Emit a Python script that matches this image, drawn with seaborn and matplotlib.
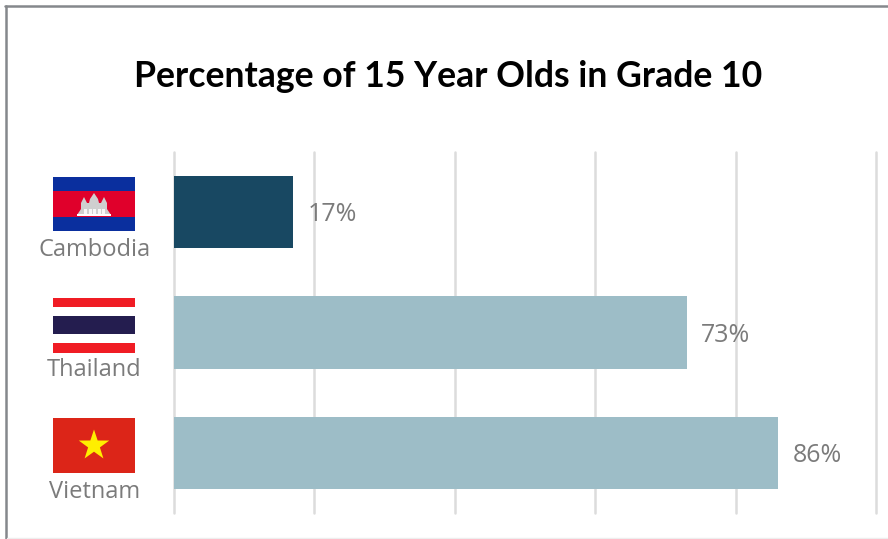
import matplotlib
matplotlib.use("Agg")
import matplotlib.pyplot as plt
from matplotlib.patches import Rectangle, Polygon
from matplotlib.lines import Line2D
import seaborn as sns
import pandas as pd
import numpy as np

countries = ["Cambodia", "Thailand", "Vietnam"]
percent = [17, 73, 86]
bar_colors = ["#184862", "#9dbdc7"]
title = "Percentage of 15 Year Olds in Grade 10"

W, H = 888, 539
sns.set_theme(style="white")
fig = plt.figure(figsize=(W / 100, H / 100), dpi=100, facecolor="white")
ax = fig.add_axes([173.8 / W, 1 - 513 / H, (876.2 - 173.8) / W, (513 - 152) / H])

df = pd.DataFrame({"country": countries, "percent": percent})
palette = {"Cambodia": bar_colors[0], "Thailand": bar_colors[1], "Vietnam": bar_colors[1]}
sns.barplot(data=df, y="country", x="percent", hue="country", palette=palette,
            width=0.6, legend=False, ax=ax, saturation=1, linewidth=0, zorder=3)
ax.set_xlim(0, 100)
ax.set_ylim(2.5, -0.5)
ax.set_xticks(range(0, 101, 20))
ax.grid(axis="x", color="#dcdcdc", linewidth=1.8, zorder=0)
for gl in ax.get_xgridlines():
    gl.set_clip_on(False)
ax.grid(axis="y", visible=False)
ax.set_axisbelow(True)
for s in ax.spines.values():
    s.set_visible(False)
ax.tick_params(length=0, labelleft=False, labelbottom=False)
ax.set_xlabel("")
ax.set_ylabel("")

for i, v in enumerate(percent):
    ax.annotate(f"{v}%", (v, i), xytext=(14.5 * 0.72, -2), textcoords="offset points",
                va="center", ha="left", fontsize=18, color="#7b7b7b", family="Open Sans")

# Pixel-space helpers for the decorative flags and frame
def R(x0, y0, x1, y1, c):
    fig.add_artist(Rectangle((x0 / W, 1 - y1 / H), (x1 - x0) / W, (y1 - y0) / H,
                             transform=fig.transFigure, facecolor=c, edgecolor="none"))

def P(pts, c):
    fig.add_artist(Polygon([(x / W, 1 - y / H) for x, y in pts], closed=True,
                           transform=fig.transFigure, facecolor=c, edgecolor="none"))

# Cambodia
R(52.5, 177.5, 135, 230.5, "#0a2f9e")
R(52.5, 191, 135, 217, "#e0002b")
P([(77, 215), (81, 209), (81, 203), (84, 197), (87, 203), (89, 203), (90, 199), (94, 193),
   (98, 199), (99, 203), (101, 203), (104, 197), (107, 203), (107, 209), (111, 215)], "#cfcfcf")
for x in (85, 90, 94.5, 99, 103.5):
    R(x - 1.5, 209, x + 1.5, 214, "#f7f7f7")
R(77, 214, 111, 215.5, "#ffffff")

# Thailand
R(52.5, 297.5, 135, 307, "#f01c24")
R(52.5, 316, 135, 334, "#241d4f")
R(52.5, 343, 135, 353, "#f01c24")

# Vietnam
R(52.5, 418, 135, 473, "#dc2518")
cx, cy, ro, ri = 94, 445.5, 16, 6.2
ang = np.deg2rad(np.arange(0, 360, 36) - 90)
rad = np.where(np.arange(10) % 2 == 0, ro, ri)
P(list(zip(cx + rad * np.cos(ang), cy + rad * np.sin(ang))), "#ffee00")

# Category labels under the flags
label_y = [250, 370, 492]
for name, y in zip(countries, label_y):
    fig.text(94.5 / W, 1 - y / H, name, ha="center", va="center", fontsize=17,
             color="#7b7b7b", family="Open Sans")

fig.text(448.5 / W, 1 - 77 / H, title, ha="center", va="center", fontsize=25.7,
         fontweight="bold", color="black", family="Lato")

# Outer frame
fig.add_artist(Line2D([6 / W, 6 / W], [0, 1 - 6 / H], color="#85888c", lw=1.8))
fig.add_artist(Line2D([5.4 / W, 1], [1 - 6 / H, 1 - 6 / H], color="#85888c", lw=1.8))
fig.add_artist(Line2D([7 / W, 1], [1 - 538 / H, 1 - 538 / H], color="#eeeeee", lw=1))

fig.savefig("out.png", dpi=100, facecolor="white")
